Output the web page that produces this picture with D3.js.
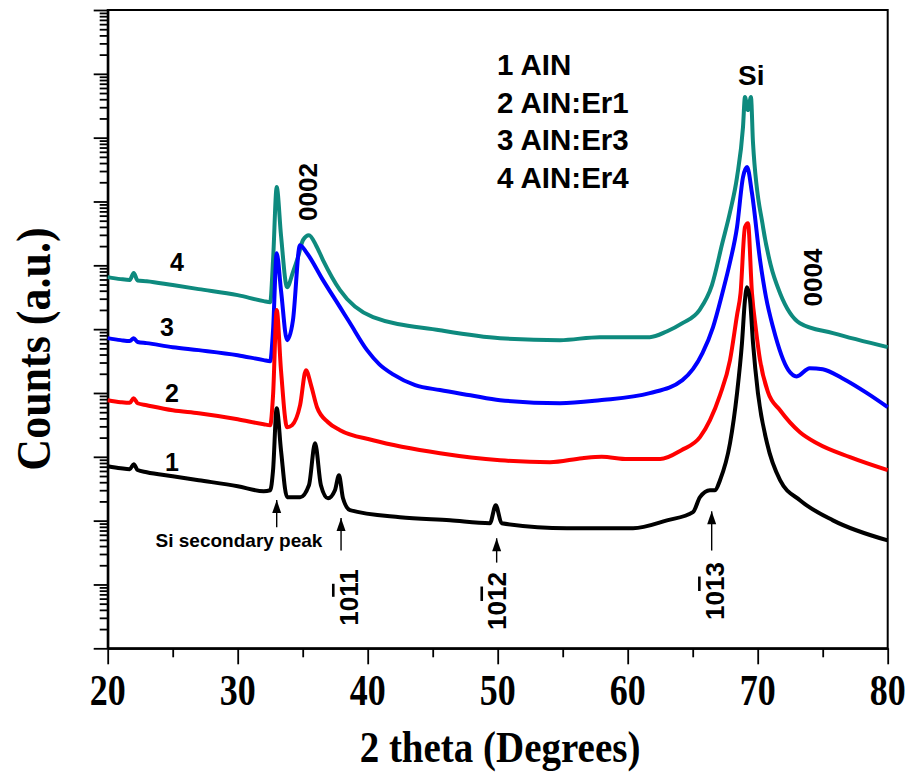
<!DOCTYPE html>
<html lang="en">
<head>
<meta charset="utf-8">
<title>XRD AlN:Er</title>
<script src="https://d3js.org/d3.v7.min.js"></script>
<style>
  body { margin: 0; background: #fff; }
  text { font-family: "Liberation Sans", Arial, sans-serif; font-weight: bold; }
  .serif { font-family: "Liberation Serif", "Times New Roman", serif; }
</style>
</head>
<body>
<script>
var w = 911, h = 779;
var plotLeft = 107.7, plotRight = 887.7, plotTop = 10, plotBottom = 648.3;

// 2 theta (degrees) / counts (a.u.)
var theta1 = [20, 21, 21.7, 22, 22.3, 23, 25, 27, 30, 32, 32.5, 32.72, 33.0, 33.33, 33.8, 34.8, 35.48, 35.95, 36.4, 36.95,
              37.48, 37.79, 38.1, 38.64, 42.48, 46.33, 49.4, 49.85, 50.3, 55.33, 60.41, 63.02, 65.02, 65.56, 66.33, 66.72,
              67.1, 67.87, 68.41, 68.79, 69.02, 69.18, 69.41, 69.64, 70.02, 70.72, 71.72, 73.25, 75.79, 80];
var counts1 = [713, 662, 640, 766, 620, 574, 497, 430, 346, 289, 299, 617, 5780, 1270, 233, 233, 359, 1630, 359, 224,
               299, 515, 224, 146, 113, 101, 91, 174, 91, 76, 76, 101, 136, 233, 299, 299,
               430, 1630, 9930, 6.04e4, 2.85e5, 4.55e5, 2.85e5, 6.04e4, 9930, 1630, 430, 209, 101, 49];

var theta2 = [20, 21, 21.7, 22, 22.3, 23, 25, 27, 30, 32, 32.5, 32.72, 33.0, 33.33, 33.8, 34.18, 34.8, 35.25, 35.64, 36.1,
              36.95, 37.87, 40.41, 45.56, 50.18, 54.02, 56.5, 58.0, 60.0, 62.5, 64.13, 65.56, 66.33, 67.1, 67.87, 68.41,
              68.68, 69.02, 69.25, 69.56, 69.87, 70.18, 70.79, 71.72, 73.25, 74.56, 77.1, 80];
var counts2 = [7710, 7180, 7000, 8280, 6900, 6440, 5370, 4820, 3880, 3240, 3130, 9250, 1.99e5, 2.28e4, 2910, 3130, 6440, 2.28e4, 1.33e4, 5990,
               3480, 2610, 1820, 1140, 885, 823, 950, 1000, 920, 920, 1270, 2030, 3750, 9250, 3.27e4, 1.66e5,
               3.66e5, 3.97e6, 4.58e6, 3.66e5, 9.64e4, 3.27e4, 1.03e4, 5370, 2430, 1630, 986, 617];

var theta3 = [20, 21, 21.7, 22, 22.3, 23, 25, 27, 30, 32, 32.5, 32.72, 33.0, 33.33, 33.8, 34.25, 34.79, 35.33, 36.56, 37.87,
              38.6, 39.95, 40.9, 41.95, 43.65, 45.56, 47.9, 50.18, 54.79, 57.85, 61.7, 64.21, 65.75, 66.56, 67.28, 67.87,
              68.41, 68.87, 69.18, 69.56, 70.18, 70.64, 71.18, 72.36, 73.0, 74.0, 75.0, 76.5, 78.41, 80];
var counts3 = [7.23e4, 6.73e4, 6.5e4, 7.23e4, 6.3e4, 6.04e4, 5.22e4, 4.69e4, 3.91e4, 3.27e4, 3.15e4, 9.64e4, 1.55e6, 4.08e5, 6.73e4, 1.38e5, 2.07e6, 1.55e6, 5.86e5, 2.21e5,
               1.28e5, 4.69e4, 2.81e4, 1.96e4, 1.33e4, 1.11e4, 9220, 7710, 6920, 7710, 9930, 1.59e4, 4.21e4, 1.07e5, 3.66e5, 1.12e6,
               3.97e6, 2.41e7, 3.46e7, 1.35e7, 1.21e6, 3.16e5, 1.07e5, 2.28e4, 1.82e4, 2.44e4, 2.35e4, 1.70e4, 9930, 5990];

var theta4 = [20, 21, 21.7, 22, 22.3, 23, 25, 27, 30, 32, 32.5, 32.72, 33.0, 33.33, 33.8, 34.25, 34.64, 35.02, 35.48, 36.02,
              36.56, 37.87, 40.41, 45.56, 50.18, 54.79, 57.85, 61.7, 63.0, 64.21, 65.52, 66.48, 67.28, 67.87, 68.41, 68.87,
              69.02, 69.25, 69.48, 69.64, 70.41, 71.0, 71.72, 73.25, 75.79, 80];
var counts4 = [6.53e5, 6.08e5, 5.9e5, 7.55e5, 5.8e5, 5.65e5, 4.90e5, 4.24e5, 3.41e5, 2.75e5, 2.65e5, 1.21e6, 1.68e7, 2.97e6, 4.55e5, 7.82e5, 1.35e6, 2.48e6, 2.97e6, 2.07e6,
               1.21e6, 4.08e5, 1.54e5, 9.64e4, 7.23e4, 6.73e4, 7.50e4, 7.50e4, 9.2e4, 1.24e5, 1.99e5, 4.9e5, 2.23e6, 6.8e6, 2.41e7, 1.47e8,
               4.33e8, 2.71e8, 4.33e8, 8.22e7, 3.97e6, 1.01e6, 3.66e5, 1.24e5, 8.65e4, 5.22e4];

var sampleNames = ["1 AIN", "2 AIN:Er1", "3 AIN:Er3", "4 AIN:Er4"];
var colors = ["#000000", "#ff0000", "#0000ff", "#0e8a7e"];

// curve number labels [theta, counts]
var curveLabelPos = [[24.95, 830], [24.95, 1.0e4], [24.56, 1.08e5], [25.33, 1.13e6]];

// arrows: theta, tail counts, tip counts
var arrowTheta = [33.0, 37.95, 49.92, 66.46];
var arrowFrom = [79, 34, 22, 34];
var arrowTo = [210, 110, 53, 140];

// Miller-Bravais labels (third index barred)
var hklTheta = [38.56, 49.98, 66.72];
var hklCounts = [6.25, 5.51, 7.9];
var hklLast = ["1", "2", "3"];

var xTicks = [20, 30, 40, 50, 60, 70, 80];
var xMinor = [25, 35, 45, 55, 65, 75];

var svg = d3.select("body").append("svg")
    .attr("width", w).attr("height", h);
svg.append("rect").attr("width", w).attr("height", h).attr("fill", "#fff");

var x = d3.scaleLinear().domain([20, 80]).range([plotLeft, plotRight]);
var y = d3.scaleLog().domain([1, 1e10]).range([plotBottom, plotTop]);

var majors = d3.range(0, 11).map(function(k) { return Math.pow(10, k); });
var minors = [];
for (var k = 0; k < 10; k++) {
  for (var m = 2; m <= 9; m++) minors.push(m * Math.pow(10, k));
}

// frame
svg.append("rect")
   .attr("x", plotLeft).attr("y", plotTop)
   .attr("width", plotRight - plotLeft).attr("height", plotBottom - plotTop)
   .attr("fill", "none").attr("stroke", "#000").attr("stroke-width", 2);

function styleAxis(g) {
  g.selectAll("path").attr("stroke", "#000").attr("stroke-width", 2);
  g.selectAll("line").attr("stroke", "#000").attr("stroke-width", 1.8);
}

svg.append("g").attr("transform", "translate(" + plotLeft + ",0)")
   .call(d3.axisLeft(y).tickValues(minors).tickSize(8).tickSizeOuter(0).tickFormat(""))
   .call(styleAxis);
svg.append("g").attr("transform", "translate(" + plotLeft + ",0)")
   .call(d3.axisLeft(y).tickValues(majors).tickSize(14).tickSizeOuter(0).tickFormat(""))
   .call(styleAxis);

svg.append("g").attr("transform", "translate(0," + plotBottom + ")")
   .call(d3.axisBottom(x).tickValues(xMinor).tickSize(9).tickSizeOuter(0).tickFormat(""))
   .call(styleAxis);
svg.append("g").attr("transform", "translate(0," + plotBottom + ")")
   .call(d3.axisBottom(x).tickValues(xTicks).tickSize(16).tickSizeOuter(0).tickFormat(""))
   .call(styleAxis);

// tick labels (tall, narrow serif as in the figure)
svg.selectAll(".xl").data(xTicks).enter().append("text")
   .attr("class", "serif")
   .attr("transform", function(d) { return "translate(" + x(d) + ",705) scale(1,1.22)"; })
   .attr("text-anchor", "middle")
   .style("font-size", "36px")
   .text(function(d) { return d; });

// axis titles
svg.append("text").attr("class", "serif")
   .attr("transform", "translate(500,762) scale(1,1.12)")
   .attr("text-anchor", "middle")
   .style("font-size", "39px")
   .text("2 theta (Degrees)");
svg.append("text").attr("class", "serif")
   .attr("transform", "translate(50,349) rotate(-90) scale(1,1.1)")
   .attr("text-anchor", "middle")
   .style("font-size", "44px")
   .text("Counts (a.u.)");

// curves
var thetas = [theta1, theta2, theta3, theta4];
var counts = [counts1, counts2, counts3, counts4];
var line = d3.line()
    .x(function(d) { return x(d[0]); })
    .y(function(d) { return y(d[1]); })
    .curve(d3.curveMonotoneX);

for (var i = 3; i >= 0; i--) {
  var pts = thetas[i].map(function(t, j) { return [t, counts[i][j]]; });
  svg.append("path")
     .attr("d", line(pts))
     .attr("fill", "none")
     .attr("stroke", colors[i])
     .attr("stroke-width", 4)
     .attr("stroke-linejoin", "round");
}

// curve numbers
svg.selectAll(".cnum").data(curveLabelPos).enter().append("text")
   .attr("x", function(d) { return x(d[0]); })
   .attr("y", function(d) { return y(d[1]); })
   .attr("text-anchor", "middle")
   .attr("dominant-baseline", "central")
   .style("font-size", "25px")
   .text(function(d, i) { return i + 1; });

// legend
svg.selectAll(".leg").data(sampleNames).enter().append("text")
   .attr("x", 497)
   .attr("y", function(d, i) { return 75 + i * 37.7; })
   .style("font-size", "29.5px")
   .text(function(d) { return d; });

// peak labels
svg.append("text").attr("x", x(69.5)).attr("y", y(6.68e8))
   .attr("text-anchor", "middle").style("font-size", "28px").text("Si");
svg.append("text")
   .attr("transform", "translate(" + x(35.37) + "," + y(1.41e7) + ") rotate(-90)")
   .attr("text-anchor", "middle").attr("dominant-baseline", "central")
   .style("font-size", "26px").text("0002");
svg.append("text")
   .attr("transform", "translate(" + x(74.22) + "," + y(6.44e5) + ") rotate(-90)")
   .attr("text-anchor", "middle").attr("dominant-baseline", "central")
   .style("font-size", "26px").text("0004");

svg.append("text").attr("x", x(30.1)).attr("y", y(38.6))
   .attr("text-anchor", "middle").style("font-size", "19px")
   .text("Si secondary peak");

// arrows
arrowTheta.forEach(function(t, i) {
  svg.append("line")
     .attr("x1", x(t)).attr("x2", x(t))
     .attr("y1", y(arrowFrom[i])).attr("y2", y(arrowTo[i]))
     .attr("stroke", "#000").attr("stroke-width", 1.4);
  svg.append("path")
     .attr("d", "M" + (x(t) - 4.5) + "," + (y(arrowTo[i]) + 13) + " L" + x(t) + "," + y(arrowTo[i]) +
                " L" + (x(t) + 4.5) + "," + (y(arrowTo[i]) + 13) + " Z")
     .attr("fill", "#000");
});

// (10-1x) labels
hklTheta.forEach(function(t, i) {
  var tx = svg.append("text")
     .attr("transform", "translate(" + x(t) + "," + y(hklCounts[i]) + ") rotate(-90)")
     .attr("text-anchor", "middle").attr("dominant-baseline", "central")
     .style("font-size", "26px");
  tx.append("tspan").text("10");
  tx.append("tspan").style("text-decoration", "overline").text("1");
  tx.append("tspan").text(hklLast[i]);
});
</script>
</body>
</html>
